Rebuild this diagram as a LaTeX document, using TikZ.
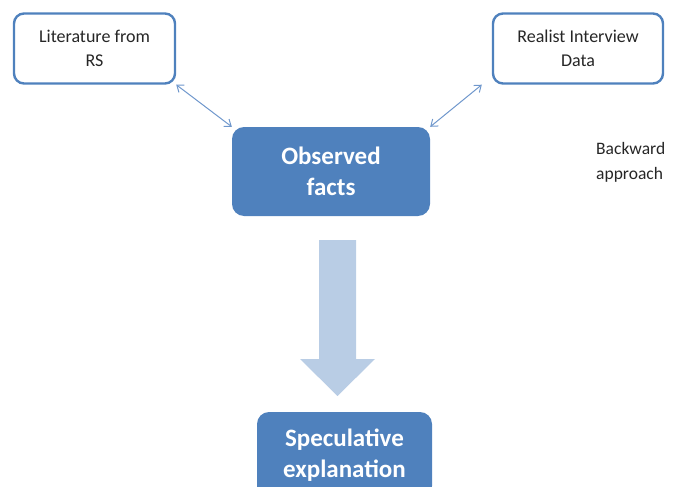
\documentclass[tikz,border=0pt]{standalone}
\usepackage{fontspec}
\setmainfont{Carlito}
\usetikzlibrary{arrows.meta}
\definecolor{accent}{HTML}{4F81BD}
\definecolor{linkblue}{HTML}{6F97CC}
\definecolor{paleblue}{HTML}{B9CDE5}
\definecolor{ink}{HTML}{262626}
\begin{document}
\begin{tikzpicture}[x=1pt,y=-1pt,
  sourcebox/.style={draw=accent, line width=2.4pt, fill=white, rounded corners=10pt,
    align=center, text=ink, font=\fontsize{18}{24}\selectfont, inner sep=0pt},
  factbox/.style={fill=accent, rounded corners=12pt, align=center, text=white,
    font=\fontsize{25}{30.5}\selectfont\bfseries, inner sep=0pt},
  link/.style={draw=linkblue, line width=1pt,
    {Straight Barb[length=6pt,width=9pt]}-{Straight Barb[length=6pt,width=9pt]}},
  note/.style={align=left, text=ink, font=\fontsize{17.5}{25}\selectfont, inner sep=0pt}
]
\useasboundingbox (0,0) rectangle (694,487);
\clip (0,0) rectangle (694,487);

% source boxes
\node[sourcebox, minimum width=161pt, minimum height=70pt] (lit) at (94.5,48.5) {Literature from\\RS};
\node[sourcebox, minimum width=170pt, minimum height=70pt] (real) at (578,48.5) {Realist Interview\\Data};

% central facts box
\node[factbox, minimum width=198pt, minimum height=89pt] (obs) at (331,171.5) {Observed\\facts};

% explanation box (runs off the bottom edge)
\node[factbox, minimum width=175pt, minimum height=86pt] (spec) at (344.5,455) {Speculative\\explanation};

% side note
\node[note, anchor=west] (note) at (596,162.5) {Backward\\approach};

% two-way links into the facts box
\draw[link] (lit.south east) -- (obs.north west);
\draw[link] (real.south west) ++(-10pt,0) coordinate (rs) (rs) -- (obs.north east);

% broad downward arrow
\fill[paleblue] (319,240) -- (356,240) -- (356,359) -- (375,359) -- (337.5,396)
  -- (300,359) -- (319,359) -- cycle;
\end{tikzpicture}
\end{document}
